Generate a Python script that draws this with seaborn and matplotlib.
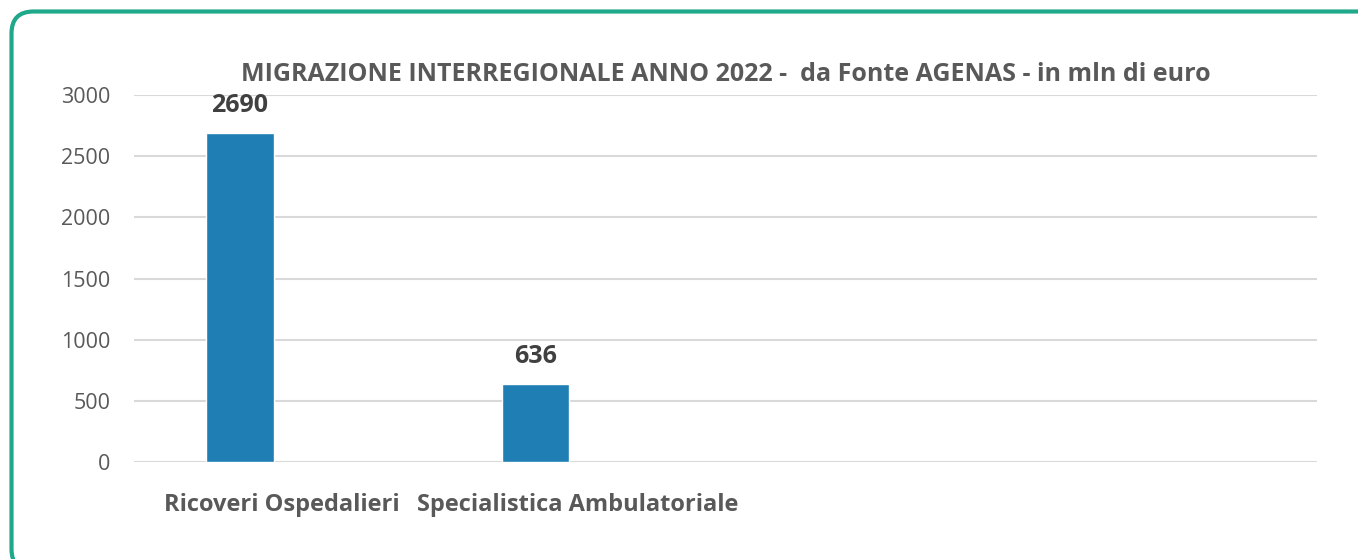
import matplotlib
matplotlib.use("Agg")
import matplotlib.pyplot as plt
import pandas as pd
import seaborn as sns
from matplotlib.patches import FancyBboxPatch
from matplotlib.transforms import IdentityTransform

categories = ["Ricoveri Ospedalieri", "Specialistica Ambulatoriale", " ", "  "]
series_names = ["Serie1", "Serie2"]
serie1 = [2690, 636, None, None]
serie2 = [None, None, None, None]
title = "MIGRAZIONE INTERREGIONALE ANNO 2022 -  da Fonte AGENAS - in mln di euro"
yticks = [0, 500, 1000, 1500, 2000, 2500, 3000]

BAR_COLOR = "#1f7eb4"
TEXT_GRAY = "#595959"
GRID_GRAY = "#d9d9d9"
FRAME_GREEN = "#1fa88a"


def build_frame():
    rows = []
    for cat, v1, v2 in zip(categories, serie1, serie2):
        rows.append({"categoria": cat, "serie": series_names[0], "valore": v1})
        rows.append({"categoria": cat, "serie": series_names[1], "valore": v2})
    return pd.DataFrame(rows)


def main():
    sns.set_style("white")
    plt.rcParams["font.family"] = ["Open Sans", "DejaVu Sans"]

    df = build_frame()
    fig = plt.figure(figsize=(13.58, 5.59), dpi=100)
    ax = fig.add_axes([0.0987, 0.1735, 0.8711, 0.6565])

    sns.barplot(data=df, x="categoria", y="valore", hue="serie",
                order=categories, hue_order=series_names,
                palette=[BAR_COLOR, BAR_COLOR], width=0.568, gap=0.2,
                legend=False, ax=ax, saturation=1)

    ax.set_ylim(0, 3000)
    ax.set_yticks(yticks)
    ax.set_xlim(-0.5, len(categories) - 0.5)
    ax.grid(axis="y", color=GRID_GRAY, linewidth=1.5)
    ax.set_axisbelow(True)
    for s in ax.spines.values():
        s.set_visible(False)
    ax.tick_params(axis="y", length=0, pad=17, labelsize=15.5, labelcolor=TEXT_GRAY)
    ax.tick_params(axis="x", length=0, pad=22, labelsize=17, labelcolor=TEXT_GRAY)
    for lab in ax.get_xticklabels():
        lab.set_fontweight("bold")
    ax.set_xlabel("")
    ax.set_ylabel("")

    ax.bar_label(ax.containers[0], fmt="%d", padding=11, fontsize=18,
                 fontweight="bold", color="#404040")

    ax.set_title(title, fontsize=18, fontweight="bold", color=TEXT_GRAY, pad=10)

    # rounded green frame, partly running off the right and bottom edges
    frame = FancyBboxPatch((11.5, -12), 1370, 559.5,
                           boxstyle="round,pad=0,rounding_size=22",
                           transform=IdentityTransform(), fill=False,
                           edgecolor=FRAME_GREEN, linewidth=3, zorder=0)
    fig.patches.append(frame)

    fig.savefig("out.png", dpi=100)


if __name__ == "__main__":
    main()
